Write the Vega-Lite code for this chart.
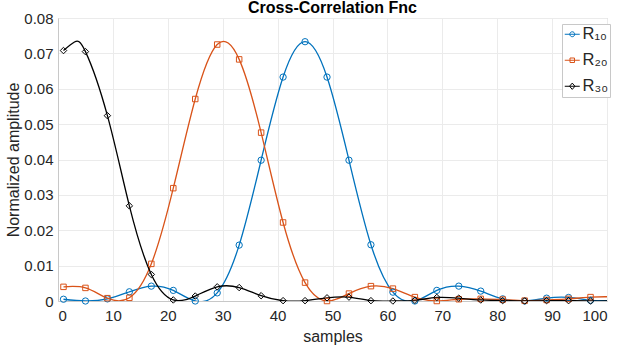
{
  "$schema": "https://vega.github.io/schema/vega-lite/v6.json",
  "width": 549,
  "height": 283,
  "autosize": "none",
  "padding": {"left": 58, "top": 18, "right": 12, "bottom": 48},
  "background": "white",
  "config": {
    "font": "Liberation Sans",
    "view": {"stroke": "#c8c8c8", "strokeWidth": 1},
    "axis": {
      "domainColor": "#c8c8c8",
      "gridColor": "#ebebeb",
      "gridOpacity": 1,
      "tickSize": 0,
      "labelColor": "#262626",
      "labelFontSize": 15,
      "labelFont": "Liberation Sans",
      "titleColor": "#262626",
      "titleFontSize": 16,
      "titleFontWeight": "normal",
      "titleFont": "Liberation Sans"
    }
  },
  "title": {
    "text": "Cross-Correlation Fnc",
    "fontSize": 16,
    "fontWeight": "bold",
    "color": "#000000",
    "font": "Liberation Sans",
    "anchor": "middle",
    "baseline": "alphabetic",
    "offset": 0,
    "dy": 18
  },
  "data": {
    "values": [
      {"series": "R₁₀", "x": 1, "y": 0.0005, "mk": 1},
      {"series": "R₁₀", "x": 5, "y": 0.0, "mk": 1},
      {"series": "R₁₀", "x": 9, "y": 0.0006, "mk": 1},
      {"series": "R₁₀", "x": 13, "y": 0.0026, "mk": 1},
      {"series": "R₁₀", "x": 17, "y": 0.0042, "mk": 1},
      {"series": "R₁₀", "x": 21, "y": 0.003, "mk": 1},
      {"series": "R₁₀", "x": 25, "y": 0.0, "mk": 1},
      {"series": "R₁₀", "x": 29, "y": 0.0023, "mk": 1},
      {"series": "R₁₀", "x": 33, "y": 0.0158, "mk": 1},
      {"series": "R₁₀", "x": 37, "y": 0.0398, "mk": 1},
      {"series": "R₁₀", "x": 41, "y": 0.0633, "mk": 1},
      {"series": "R₁₀", "x": 45, "y": 0.0733, "mk": 1},
      {"series": "R₁₀", "x": 49, "y": 0.0633, "mk": 1},
      {"series": "R₁₀", "x": 53, "y": 0.0398, "mk": 1},
      {"series": "R₁₀", "x": 57, "y": 0.0159, "mk": 1},
      {"series": "R₁₀", "x": 61, "y": 0.0025, "mk": 1},
      {"series": "R₁₀", "x": 65, "y": 0.0, "mk": 1},
      {"series": "R₁₀", "x": 69, "y": 0.003, "mk": 1},
      {"series": "R₁₀", "x": 73, "y": 0.0042, "mk": 1},
      {"series": "R₁₀", "x": 77, "y": 0.0028, "mk": 1},
      {"series": "R₁₀", "x": 81, "y": 0.0006, "mk": 1},
      {"series": "R₁₀", "x": 85, "y": 0.0, "mk": 1},
      {"series": "R₁₀", "x": 89, "y": 0.0008, "mk": 1},
      {"series": "R₁₀", "x": 93, "y": 0.001, "mk": 1},
      {"series": "R₁₀", "x": 97, "y": 0.0002, "mk": 1},
      {"series": "R₁₀", "x": 100, "y": 0.0001, "mk": 0},
      {"series": "R₂₀", "x": 1, "y": 0.004, "mk": 1},
      {"series": "R₂₀", "x": 5, "y": 0.0037, "mk": 1},
      {"series": "R₂₀", "x": 9, "y": 0.0008, "mk": 1},
      {"series": "R₂₀", "x": 13, "y": 0.0009, "mk": 1},
      {"series": "R₂₀", "x": 17, "y": 0.0105, "mk": 1},
      {"series": "R₂₀", "x": 21, "y": 0.0319, "mk": 1},
      {"series": "R₂₀", "x": 25, "y": 0.0571, "mk": 1},
      {"series": "R₂₀", "x": 29, "y": 0.0725, "mk": 1},
      {"series": "R₂₀", "x": 33, "y": 0.0683, "mk": 1},
      {"series": "R₂₀", "x": 37, "y": 0.0476, "mk": 1},
      {"series": "R₂₀", "x": 41, "y": 0.0222, "mk": 1},
      {"series": "R₂₀", "x": 45, "y": 0.0052, "mk": 1},
      {"series": "R₂₀", "x": 49, "y": 0.0, "mk": 1},
      {"series": "R₂₀", "x": 53, "y": 0.0021, "mk": 1},
      {"series": "R₂₀", "x": 57, "y": 0.0042, "mk": 1},
      {"series": "R₂₀", "x": 61, "y": 0.0035, "mk": 1},
      {"series": "R₂₀", "x": 65, "y": 0.0011, "mk": 1},
      {"series": "R₂₀", "x": 69, "y": 0.0, "mk": 1},
      {"series": "R₂₀", "x": 73, "y": 0.0005, "mk": 1},
      {"series": "R₂₀", "x": 77, "y": 0.0006, "mk": 1},
      {"series": "R₂₀", "x": 81, "y": 0.0004, "mk": 1},
      {"series": "R₂₀", "x": 85, "y": 0.0001, "mk": 1},
      {"series": "R₂₀", "x": 89, "y": 0.0003, "mk": 1},
      {"series": "R₂₀", "x": 93, "y": 0.0006, "mk": 1},
      {"series": "R₂₀", "x": 97, "y": 0.0011, "mk": 1},
      {"series": "R₂₀", "x": 100, "y": 0.0012, "mk": 0},
      {"series": "R₃₀", "x": 1, "y": 0.0708, "mk": 1},
      {"series": "R₃₀", "x": 3, "y": 0.0732, "mk": 0},
      {"series": "R₃₀", "x": 5, "y": 0.0705, "mk": 1},
      {"series": "R₃₀", "x": 9, "y": 0.0524, "mk": 1},
      {"series": "R₃₀", "x": 13, "y": 0.0269, "mk": 1},
      {"series": "R₃₀", "x": 17, "y": 0.0075, "mk": 1},
      {"series": "R₃₀", "x": 21, "y": 0.0003, "mk": 1},
      {"series": "R₃₀", "x": 25, "y": 0.0014, "mk": 1},
      {"series": "R₃₀", "x": 29, "y": 0.004, "mk": 1},
      {"series": "R₃₀", "x": 33, "y": 0.0038, "mk": 1},
      {"series": "R₃₀", "x": 37, "y": 0.0015, "mk": 1},
      {"series": "R₃₀", "x": 41, "y": 0.0001, "mk": 1},
      {"series": "R₃₀", "x": 45, "y": 0.0001, "mk": 1},
      {"series": "R₃₀", "x": 49, "y": 0.0009, "mk": 1},
      {"series": "R₃₀", "x": 53, "y": 0.0011, "mk": 1},
      {"series": "R₃₀", "x": 57, "y": 0.0001, "mk": 1},
      {"series": "R₃₀", "x": 61, "y": 0.0, "mk": 1},
      {"series": "R₃₀", "x": 65, "y": 0.0002, "mk": 1},
      {"series": "R₃₀", "x": 69, "y": 0.001, "mk": 1},
      {"series": "R₃₀", "x": 73, "y": 0.0008, "mk": 1},
      {"series": "R₃₀", "x": 77, "y": 0.0003, "mk": 1},
      {"series": "R₃₀", "x": 81, "y": 0.0001, "mk": 1},
      {"series": "R₃₀", "x": 85, "y": 0.0, "mk": 1},
      {"series": "R₃₀", "x": 89, "y": 0.0001, "mk": 1},
      {"series": "R₃₀", "x": 93, "y": 0.0001, "mk": 1},
      {"series": "R₃₀", "x": 97, "y": 0.0, "mk": 1},
      {"series": "R₃₀", "x": 100, "y": 0.0, "mk": 0}
    ]
  },
  "encoding": {
    "x": {
      "field": "x",
      "type": "quantitative",
      "scale": {"domain": [0, 100], "nice": false},
      "axis": {"values": [0, 10, 20, 30, 40, 50, 60, 70, 80, 90, 100], "title": "samples", "labelPadding": 7, "titlePadding": 5}
    },
    "y": {
      "field": "y",
      "type": "quantitative",
      "scale": {"domain": [0, 0.08], "nice": false},
      "axis": {
        "values": [0, 0.01, 0.02, 0.03, 0.04, 0.05, 0.06, 0.07, 0.08],
        "labelExpr": "datum.value === 0 ? '0' : format(datum.value, '.2f')",
        "title": "Normalized amplitude",
        "labelPadding": 5,
        "titlePadding": 2
      }
    },
    "color": {
      "field": "series",
      "type": "nominal",
      "scale": {"domain": ["R₁₀", "R₂₀", "R₃₀"], "range": ["#0072BD", "#D95319", "#000000"]},
      "legend": {
        "title": null,
        "orient": "none",
        "legendX": 504,
        "legendY": 6,
        "padding": 2,
        "strokeColor": "#c8c8c8",
        "fillColor": "white",
        "labelFontSize": 16.5,
        "labelColor": "#262626",
        "labelFont": "Liberation Sans",
        "labelOffset": 2,
        "symbolSize": 225,
        "symbolStrokeWidth": 1,
        "rowPadding": 9,
        "encode": {
          "symbols": {
            "update": {
              "shape": {"signal": "datum.value === 'R₁₀' ? 'M-1,0L1,0M0.33,0A0.33,0.33,0,1,1,-0.33,0A0.33,0.33,0,1,1,0.33,0' : datum.value === 'R₂₀' ? 'M-1,0L1,0M-0.3,-0.3L0.3,-0.3L0.3,0.3L-0.3,0.3Z' : 'M-1,0L1,0M0,-0.42L0.36,0L0,0.42L-0.36,0Z'"},
              "fill": {"value": "transparent"},
              "strokeWidth": {"value": 1}
            }
          }
        }
      }
    }
  },
  "layer": [
    {
      "mark": {"type": "line", "interpolate": "natural", "strokeWidth": 1.3, "clip": true}
    },
    {
      "transform": [{"filter": "datum.mk == 1 && datum.series == 'R₁₀'"}],
      "mark": {"type": "point", "shape": "circle", "filled": false, "strokeWidth": 1, "opacity": 1, "size": 40}
    },
    {
      "transform": [{"filter": "datum.mk == 1 && datum.series == 'R₂₀'"}],
      "mark": {"type": "point", "shape": "square", "filled": false, "strokeWidth": 1, "opacity": 1, "size": 30}
    },
    {
      "transform": [{"filter": "datum.mk == 1 && datum.series == 'R₃₀'"}],
      "mark": {"type": "point", "shape": "diamond", "filled": false, "strokeWidth": 1, "opacity": 1, "size": 42}
    }
  ]
}
